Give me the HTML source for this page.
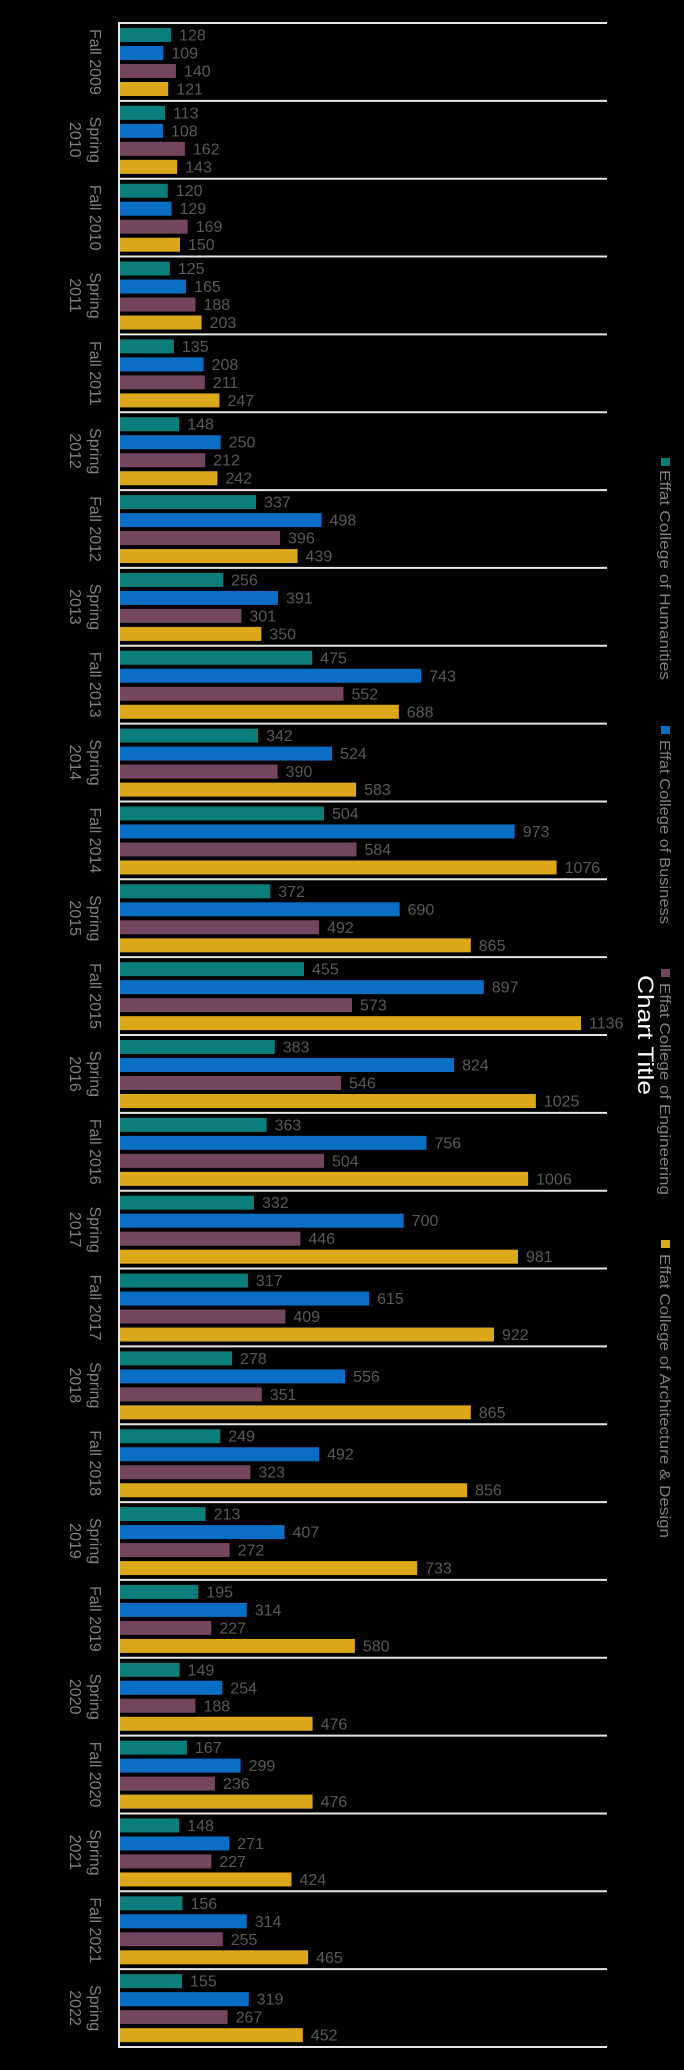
<!DOCTYPE html>
<html><head><meta charset="utf-8"><style>
html,body{margin:0;padding:0;background:#000;}
svg{display:block;}
text{font-family:"Liberation Sans",sans-serif;}
</style></head><body>
<svg id="chart" width="684" height="2070" viewBox="0 0 684 2070" xmlns="http://www.w3.org/2000/svg">
<rect width="684" height="2070" fill="#000"/>
<g id="plot"></g>
<g id="legend">
  <text transform="translate(638,1035) rotate(90)" text-anchor="middle" font-size="22" fill="#fff" textLength="120" lengthAdjust="spacingAndGlyphs">Chart Title</text>
  <rect x="661" y="458" width="9" height="8" fill="#0b7d7a"/>
  <text transform="translate(660,470) rotate(90)" font-size="15" fill="#7f7f7f" textLength="210" lengthAdjust="spacingAndGlyphs">Effat College of Humanities</text>
  <rect x="661" y="726" width="9" height="8" fill="#0a6fc4"/>
  <text transform="translate(660,740) rotate(90)" font-size="15" fill="#7f7f7f" textLength="184" lengthAdjust="spacingAndGlyphs">Effat College of Business</text>
  <rect x="661" y="969" width="9" height="8" fill="#74455f"/>
  <text transform="translate(660,983) rotate(90)" font-size="15" fill="#7f7f7f" textLength="212" lengthAdjust="spacingAndGlyphs">Effat College of Engineering</text>
  <rect x="661" y="1240" width="9" height="8" fill="#dca81b"/>
  <text transform="translate(660,1254) rotate(90)" font-size="15" fill="#7f7f7f" textLength="284" lengthAdjust="spacingAndGlyphs">Effat College of Architecture &amp; Design</text>
</g>
</svg>
<script>
const categories = ["Fall 2009","Spring 2010","Fall 2010","Spring 2011","Fall 2011","Spring 2012","Fall 2012","Spring 2013","Fall 2013","Spring 2014","Fall 2014","Spring 2015","Fall 2015","Spring 2016","Fall 2016","Spring 2017","Fall 2017","Spring 2018","Fall 2018","Spring 2019","Fall 2019","Spring 2020","Fall 2020","Spring 2021","Fall 2021","Spring 2022"];
const humanities = [128,113,120,125,135,148,337,256,475,342,504,372,455,383,363,332,317,278,249,213,195,149,167,148,156,155];
const business = [109,108,129,165,208,250,498,391,743,524,973,690,897,824,756,700,615,556,492,407,314,254,299,271,314,319];
const engineering = [140,162,169,188,211,212,396,301,552,390,584,492,573,546,504,446,409,351,323,272,227,188,236,227,255,267];
const architecture = [121,143,150,203,247,242,439,350,688,583,1076,865,1136,1025,1006,981,922,865,856,733,580,476,476,424,465,452];
const seriesNames = ["humanities","business","engineering","architecture"];
const seriesColors = ["#0b7d7a","#0a6fc4","#74455f","#dca81b"];
const series = [humanities,business,engineering,architecture];

const NS="http://www.w3.org/2000/svg";
const plot=document.getElementById('plot');
const x0=119, xMax=1136, xMaxPx=462, xRight=607;
const top0=23, bottom0=2047;
const groupH=(bottom0-top0)/categories.length;
function xScale(v){return x0+v*xMaxPx/xMax;}
function yGroup(i){return top0+i*groupH;}
function mk(tag,attrs){const e=document.createElementNS(NS,tag);for(const k in attrs)e.setAttribute(k,attrs[k]);return e;}

for(let i=0;i<=categories.length;i++){
  const y=yGroup(i);
  const ln=mk('line',{x1:x0,x2:xRight,y1:y,y2:y,stroke:'#e6e6e6','stroke-width':2});
  
  
  plot.appendChild(ln);
}
const axis=mk('line',{x1:x0,x2:x0,y1:top0-1,y2:bottom0+1,stroke:'#e6e6e6','stroke-width':2});


plot.appendChild(axis);

categories.forEach((c,i)=>{
  const gy=yGroup(i);
  series.forEach((s,j)=>{
    const by=gy+5+j*18;
    const r=mk('rect',{x:x0+1,y:by,width:xScale(s[i])-x0-1,height:14,fill:seriesColors[j]});
    
    
    plot.appendChild(r);
    const t=mk('text',{x:xScale(s[i])+8,y:by+12.5,'font-size':16,fill:'#595959'});
    t.textContent=s[i];
    
    
    plot.appendChild(t);
  });
  const cy=gy+groupH/2;
  const parts=c.split(' ');
  if(parts[0]==='Fall'){
    const t=mk('text',{transform:'translate(90,'+cy+') rotate(90)','text-anchor':'middle','font-size':16,fill:'#7f7f7f'});
    t.textContent=c;
    
    
    plot.appendChild(t);
  } else {
    const t1=mk('text',{transform:'translate(90,'+cy+') rotate(90)','text-anchor':'middle','font-size':16,fill:'#7f7f7f'});
    t1.textContent=parts[0];
    
    
    plot.appendChild(t1);
    const t2=mk('text',{transform:'translate(70,'+cy+') rotate(90)','text-anchor':'middle','font-size':16,fill:'#7f7f7f'});
    t2.textContent=parts[1];
    
    
    plot.appendChild(t2);
  }
});
</script>
</body></html>
